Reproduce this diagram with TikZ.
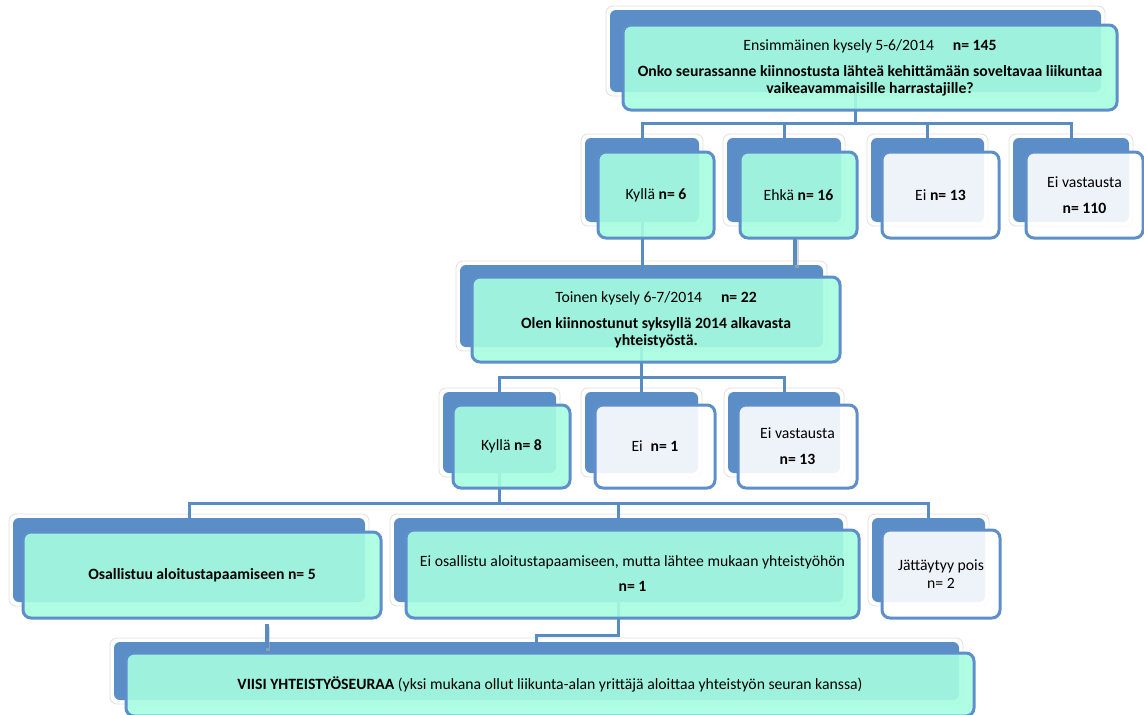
\documentclass[tikz,border=0pt]{standalone}
\usepackage{fontspec}
\setmainfont{Carlito}
\usetikzlibrary{calc}
\definecolor{backblue}{HTML}{5B8DC6}
\definecolor{edgeblue}{HTML}{5E8FCB}
\definecolor{lineblue}{HTML}{5A8CC4}
\definecolor{tealbot}{HTML}{A6FDE0}
\tikzset{
  halo/.style={draw=black!12, line width=0.8pt, fill=white, rounded corners=7pt, inner sep=0pt},
  backbox/.style={fill=backblue, rounded corners=6pt, inner sep=0pt},
  tealbox/.style={draw=edgeblue, line width=3pt, rounded corners=8pt, inner sep=0pt,
     fill=tealbot, fill opacity=0.9, text opacity=1, align=center},
  greybox/.style={draw=edgeblue, line width=3pt, rounded corners=8pt, inner sep=0pt,
     fill=white, fill opacity=0.9, text opacity=1, align=center},
  conn/.style={draw=lineblue, line width=3pt},
  thickconn/.style={draw=lineblue, line width=4pt},
  shadowconn/.style={draw=black!30, line width=4pt, opacity=0.5},
  txt/.style={font=\fontsize{15.7}{17}\selectfont}
}
% #1 name, #2-#5 back box x1,y1,x2,y2, #6-#9 front box x1,y1,x2,y2
\newcommand\mkpair[9]{%
  \node[halo, minimum width={(#4-#2+8)*1pt}, minimum height={(#5-#3+8)*1pt}]
     (#1h) at ({(#2+#4)/2},{(#3+#5)/2}) {};
  \node[backbox, minimum width={(#4-#2)*1pt}, minimum height={(#5-#3)*1pt}]
     (#1b) at ({(#2+#4)/2},{(#3+#5)/2}) {};
  \coordinate (#1c) at ({(#6+#8)/2},{(#7+#9)/2});
}
% #1 name, #2 style, #3 width, #4 height, #5 text
\newcommand\mkfront[5]{%
  \node[#2, txt, minimum width={#3*1pt}, minimum height={#4*1pt}] (#1f) at (#1c) {#5};
}
\begin{document}
\begin{tikzpicture}[x=1pt,y=-1pt]
\useasboundingbox (0,0) rectangle (1144,715);
\begin{scope}
\clip (0,0) rectangle (1144,715);

% ---------- back layers ----------
\mkpair{top}{610}{10}{1101}{92}{623}{25}{1117}{110}
\mkpair{kyA}{585}{138}{699}{222}{598}{152}{714}{238}
\mkpair{ehA}{727}{138}{841}{222}{740}{152}{857}{238}
\mkpair{eiA}{871}{138}{984}{222}{882}{152}{999}{238}
\mkpair{evA}{1013}{138}{1129}{222}{1026}{152}{1143}{238}
\mkpair{sec}{460}{265}{823}{347}{472}{277}{840}{362}
\mkpair{kyB}{443}{392}{556}{473}{453}{405}{570}{488}
\mkpair{eiB}{585}{392}{698}{473}{595}{405}{715}{488}
\mkpair{evB}{728}{392}{840}{473}{738}{405}{857}{488}
\mkpair{osa}{13}{518}{365}{602}{23}{532}{381}{618}
\mkpair{mid}{394}{518}{843}{602}{406}{530}{859}{618}
\mkpair{jat}{872}{518}{985}{602}{882}{530}{1000}{618}
\mkpair{bot}{114}{642}{959}{700}{126}{653}{974}{716}

% ---------- connectors ----------
\foreach \c in {kyA,ehA,eiA,evA}{\draw[conn] (topb.south) -- ++(0,31) -| (\c b.north);}
\draw[conn] (kyAb.south) -- (kyAb.south |- secb.north);
\draw[shadowconn] ($(ehAb.south -| ehAc)+(-2,18)$) -- ($(ehAb.south -| ehAc)+(-2,46)$);
\draw[thickconn] ($(ehAb.south -| ehAc)+(-4,16)$) -- ($(ehAb.south -| ehAc)+(-4,43)$);
\foreach \c in {kyB,eiB,evB}{\draw[conn] (secb.south) -- ++(0,30) -| (\c b.north);}
\foreach \c in {osa,mid,jat}{\draw[conn] (kyBb.south) -- ++(0,30) -| (\c b.north);}
\draw[conn] (midb.south) -- ++(0,33) -| (botb.north);
\coordinate (osx) at ($(osab.south west)!0.72!(osab.south east)$);
\draw[shadowconn] ($(osx)+(1,25)$) -- ($(osx)+(1,49)$);
\draw[thickconn] ($(osx)+(0,22)$) -- ($(osx)+(0,46)$);

% ---------- front layers ----------
\mkfront{top}{tealbox}{494}{85}{Ensimmäinen kysely 5-6/2014\hspace{1.2em}\textbf{n= 145}\\[9pt]
  \textbf{Onko seurassanne kiinnostusta lähteä kehittämään soveltavaa liikuntaa}\\
  \textbf{vaikeavammaisille harrastajille?}}
\mkfront{kyA}{tealbox}{116}{86}{Kyllä \textbf{n= 6}}
\mkfront{ehA}{tealbox}{117}{86}{Ehkä \textbf{n= 16}}
\mkfront{eiA}{greybox}{117}{86}{Ei \textbf{n= 13}}
\mkfront{evA}{greybox}{117}{86}{Ei vastausta\\[9pt]\textbf{n= 110}}
\mkfront{sec}{tealbox}{368}{85}{Toinen kysely 6-7/2014\hspace{1.2em}\textbf{n= 22}\\[9pt]
  \textbf{Olen kiinnostunut syksyllä 2014 alkavasta}\\
  \textbf{yhteistyöstä.}}
\mkfront{kyB}{tealbox}{117}{83}{Kyllä \textbf{n= 8}}
\mkfront{eiB}{greybox}{120}{83}{Ei\hspace{0.5em}\textbf{n= 1}}
\mkfront{evB}{greybox}{119}{83}{Ei vastausta\\[9pt]\textbf{n= 13}}
\mkfront{osa}{tealbox}{358}{86}{\textbf{Osallistuu aloitustapaamiseen n= 5}}
\mkfront{mid}{tealbox}{453}{88}{Ei osallistu aloitustapaamiseen, mutta lähtee mukaan yhteistyöhön\\[8pt]\textbf{n= 1}}
\mkfront{jat}{greybox}{118}{88}{Jättäytyy pois\\[1pt]n= 2}
\mkfront{bot}{tealbox}{848}{63}{\textbf{VIISI YHTEISTYÖSEURAA} (yksi mukana ollut liikunta-alan yrittäjä aloittaa yhteistyön seuran kanssa)}
\end{scope}
\end{tikzpicture}
\end{document}
